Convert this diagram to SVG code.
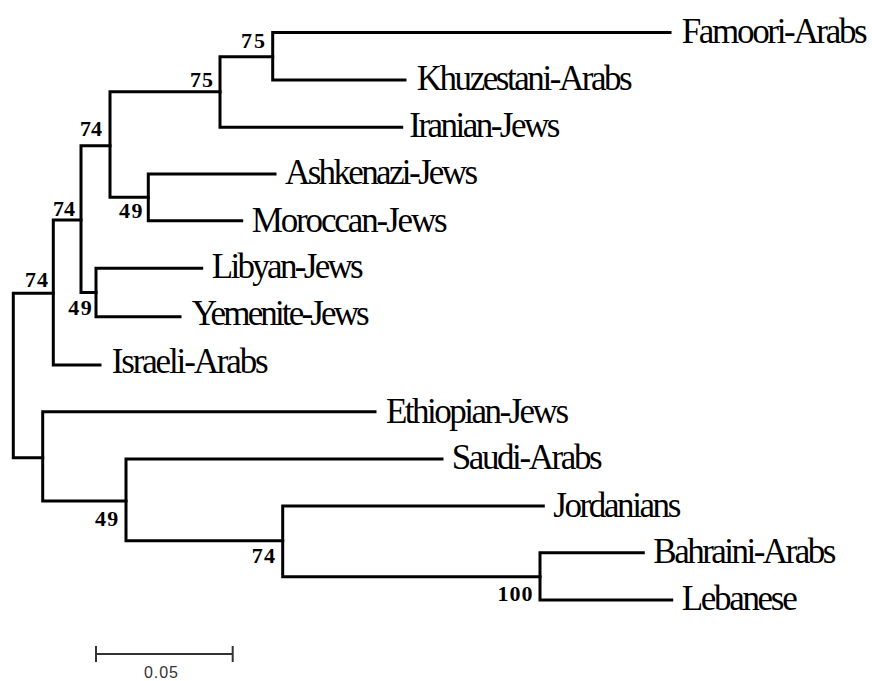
<svg xmlns="http://www.w3.org/2000/svg" width="872" height="681" viewBox="0 0 872 681">
<style>
.br{fill:none;stroke:#000;stroke-width:3;stroke-linejoin:miter;stroke-linecap:square}
.tx{font-family:"Liberation Serif","Times New Roman",serif;font-size:35px;fill:#000}
.bs{font-family:"Liberation Serif","Times New Roman",serif;font-size:22px;font-weight:bold;fill:#000}
.sc{fill:none;stroke:#333;stroke-width:2}
.sl{font-family:"Liberation Sans",Arial,sans-serif;font-size:16px;fill:#333}
</style>
<rect width="872" height="681" fill="#fff"/>
<g id="connectors">
<path class="br" d="M53.3,293.3 H13.3 V457.7 H42.7"/>
<path class="br" d="M81,220 H53.3 V365 H100"/>
<path class="br" d="M110,145.7 H81 V292.5 H96"/>
<path class="br" d="M220,91.7 H110 V197.3 H148.3"/>
<path class="br" d="M272.7,56.7 H220 V127.3 H401.7"/>
<path class="br" d="M670,32.5 H272.7 V80 H405"/>
<path class="br" d="M275,174 H148.3 V220.7 H241.7"/>
<path class="br" d="M201.7,268.3 H96 V316.7 H180"/>
<path class="br" d="M375,411.7 H42.7 V501 H126"/>
<path class="br" d="M442,459 H126 V540.7 H282.7"/>
<path class="br" d="M543.3,506 H282.7 V576.7 H540"/>
<path class="br" d="M643.3,552.7 H540 V600 H671.7"/>
</g>
<g id="tip-famoori"><text class="tx" x="681.7" y="43" textLength="186">Famoori-Arabs</text></g>
<g id="tip-khuzestani"><text class="tx" x="416.7" y="90" textLength="216">Khuzestani-Arabs</text></g>
<g id="tip-iranian"><text class="tx" x="409.3" y="136.5" textLength="151">Iranian-Jews</text></g>
<g id="tip-ashkenazi"><text class="tx" x="285" y="184" textLength="193">Ashkenazi-Jews</text></g>
<g id="tip-moroccan"><text class="tx" x="251.7" y="231.5" textLength="196">Moroccan-Jews</text></g>
<g id="tip-libyan"><text class="tx" x="211.7" y="278" textLength="152">Libyan-Jews</text></g>
<g id="tip-yemenite"><text class="tx" x="191.7" y="325" textLength="178">Yemenite-Jews</text></g>
<g id="tip-israeli"><text class="tx" x="111.7" y="373" textLength="157">Israeli-Arabs</text></g>
<g id="tip-ethiopian"><text class="tx" x="386" y="422.5" textLength="183">Ethiopian-Jews</text></g>
<g id="tip-saudi"><text class="tx" x="451.7" y="469" textLength="151">Saudi-Arabs</text></g>
<g id="tip-jordanians"><text class="tx" x="553.3" y="516.5" textLength="128">Jordanians</text></g>
<g id="tip-bahraini"><text class="tx" x="653.3" y="563" textLength="183">Bahraini-Arabs</text></g>
<g id="tip-lebanese"><text class="tx" x="681.7" y="610" textLength="116">Lebanese</text></g>
<g id="node-a"><text class="bs" x="241" y="48" textLength="24">75</text></g>
<g id="node-b"><text class="bs" x="190" y="86.5" textLength="23">75</text></g>
<g id="node-c"><text class="bs" x="80" y="136" textLength="22">74</text></g>
<g id="node-d"><text class="bs" x="119" y="218.3" textLength="23.5">49</text></g>
<g id="node-e"><text class="bs" x="53" y="216" textLength="22">74</text></g>
<g id="node-f"><text class="bs" x="68.3" y="315" textLength="23.4">49</text></g>
<g id="node-root"><text class="bs" x="25" y="287.3" textLength="23">74</text></g>
<g id="node-i"><text class="bs" x="95" y="525.7" textLength="23.3">49</text></g>
<g id="node-j"><text class="bs" x="251.7" y="563.3" textLength="23.3">74</text></g>
<g id="node-k"><text class="bs" x="497.5" y="600.5" textLength="35">100</text></g>
<g id="scale-bar">
<path class="sc" d="M96,654 H232.7 M96,646 V662 M232.7,646 V662"/>
<text class="sl" x="144" y="678" textLength="34">0.05</text>
</g>
</svg>
